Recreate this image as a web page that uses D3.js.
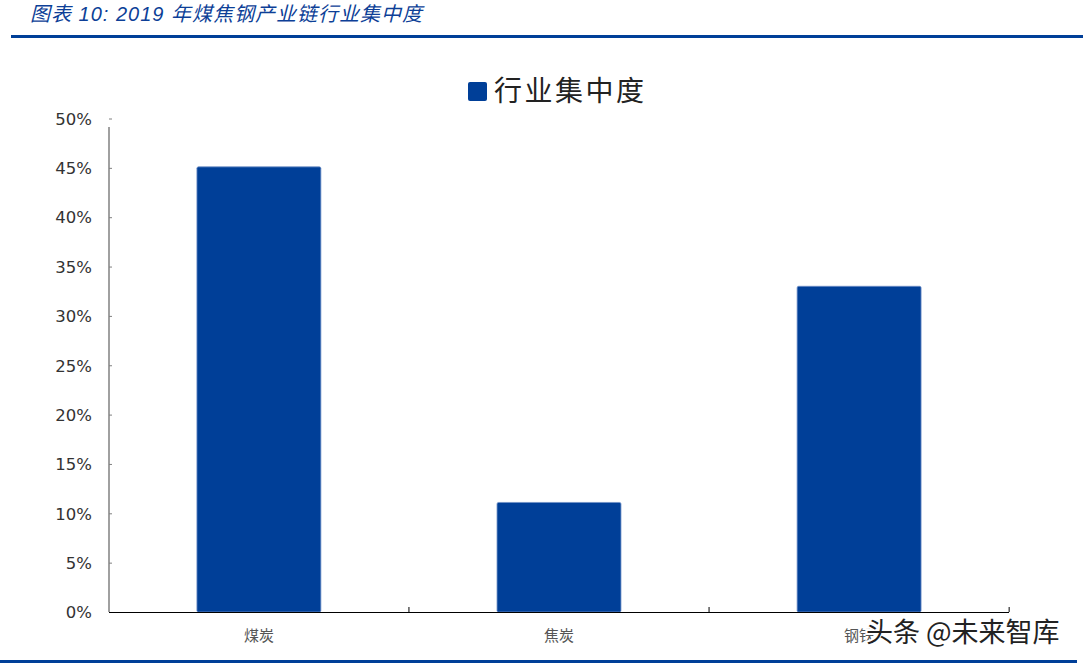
<!DOCTYPE html>
<html>
<head>
<meta charset="utf-8">
<script src="https://cdn.jsdelivr.net/npm/d3@7"></script>
<style>
  body { margin: 0; background: #fff; }
  svg { display: block; }
  .title { font-family: "Liberation Sans", "Noto Sans CJK SC", sans-serif; font-style: italic; fill: #0d3f97; font-size: 20px; letter-spacing: 1px; }
  .ytick text { font-family: "DejaVu Sans", "Noto Sans", sans-serif; font-size: 16.5px; fill: #333; }
  .xlabel { font-family: "Noto Sans CJK SC", sans-serif; font-size: 15px; fill: #555; }
  .legend-text { font-family: "Noto Sans CJK SC", sans-serif; font-size: 28px; fill: #222; letter-spacing: 2.5px; }
  .mark { font-family: "Noto Sans CJK SC", sans-serif; font-size: 27px; fill: #222; stroke: #fff; stroke-width: 4px; paint-order: stroke; }
</style>
</head>
<body>
<svg id="chart" width="1083" height="666"></svg>
<script>
// data
var categories = ['煤炭', '焦炭', '钢铁'];
var concentration = [0.451, 0.111, 0.330];
var yTicks = [0, 0.05, 0.10, 0.15, 0.20, 0.25, 0.30, 0.35, 0.40, 0.45, 0.50];
var seriesName = '行业集中度';
var titleText = '图表 10:  2019 年煤焦钢产业链行业集中度';

var svg = d3.select('#chart');
var blue = '#003f98';

// header
svg.append('text').attr('class', 'title')
  .attr('x', 30).attr('y', 21).text(titleText);
svg.append('rect').attr('x', 11).attr('y', 35).attr('width', 1072).attr('height', 3).attr('fill', blue);
svg.append('rect').attr('x', 0).attr('y', 660).attr('width', 1077).attr('height', 3).attr('fill', blue);

// plot area
var plotLeft = 109, plotRight = 1009, plotBottom = 612, plotTop = 118.5;

var x = d3.scaleBand().domain(categories).range([plotLeft, plotRight])
  .paddingInner(0.587).paddingOuter(0.293);
var y = d3.scaleLinear().domain([0, 0.5]).range([plotBottom, plotTop]);

// bars
svg.append('g').selectAll('rect')
  .data(concentration)
  .enter()
  .append('rect')
    .attr('x', function(d, i) { return x(categories[i]); })
    .attr('y', function(d) { return y(d); })
    .attr('width', x.bandwidth())
    .attr('height', function(d) { return y(0) - y(d); })
    .attr('rx', 1.5)
    .attr('fill', blue)
    .attr('stroke', '#6f8fc6')
    .attr('stroke-width', 0.8);

// y axis
var yAxis = d3.axisRight(y).tickValues(yTicks).tickSize(3)
  .tickFormat(function(d) { return Math.round(d * 100) + '%'; });
var gy = svg.append('g').attr('class', 'ytick').attr('transform', 'translate(' + plotLeft + ',0)').call(yAxis);
gy.select('.domain').remove();
gy.selectAll('line').attr('stroke', '#808080');
gy.selectAll('text').attr('x', -17).attr('dy', '0.35em').attr('text-anchor', 'end');
svg.append('line').attr('x1', plotLeft).attr('x2', plotLeft).attr('y1', 127).attr('y2', plotBottom)
  .attr('stroke', '#808080').attr('stroke-width', 1.5);

// x axis line and band ticks
svg.append('line').attr('x1', plotLeft).attr('x2', plotRight).attr('y1', plotBottom + 0.5).attr('y2', plotBottom + 0.5)
  .attr('stroke', '#000').attr('stroke-width', 1);
var bandEdges = categories.map(function(c) { return x(c) - x.step() * x.paddingInner() / 2 + x.step(); });
svg.append('g').selectAll('line').data(bandEdges).enter().append('line')
  .attr('x1', function(d) { return d; }).attr('x2', function(d) { return d; })
  .attr('y1', plotBottom - 5).attr('y2', plotBottom)
  .attr('stroke', '#000');

// category labels
svg.append('g').selectAll('text').data(categories).enter().append('text')
  .attr('class', 'xlabel')
  .attr('x', function(d) { return x(d) + x.bandwidth() / 2; })
  .attr('y', 641)
  .attr('text-anchor', 'middle')
  .text(function(d) { return d; });

// legend
svg.append('rect').attr('x', 468).attr('y', 82).attr('width', 19).attr('height', 19)
  .attr('rx', 2).attr('fill', blue);
svg.append('text').attr('class', 'legend-text').attr('x', 494).attr('y', 101).text(seriesName);

// watermark
svg.append('text').attr('class', 'mark').attr('x', 866).attr('y', 642).text('头条 @未来智库');
</script>
</body>
</html>
